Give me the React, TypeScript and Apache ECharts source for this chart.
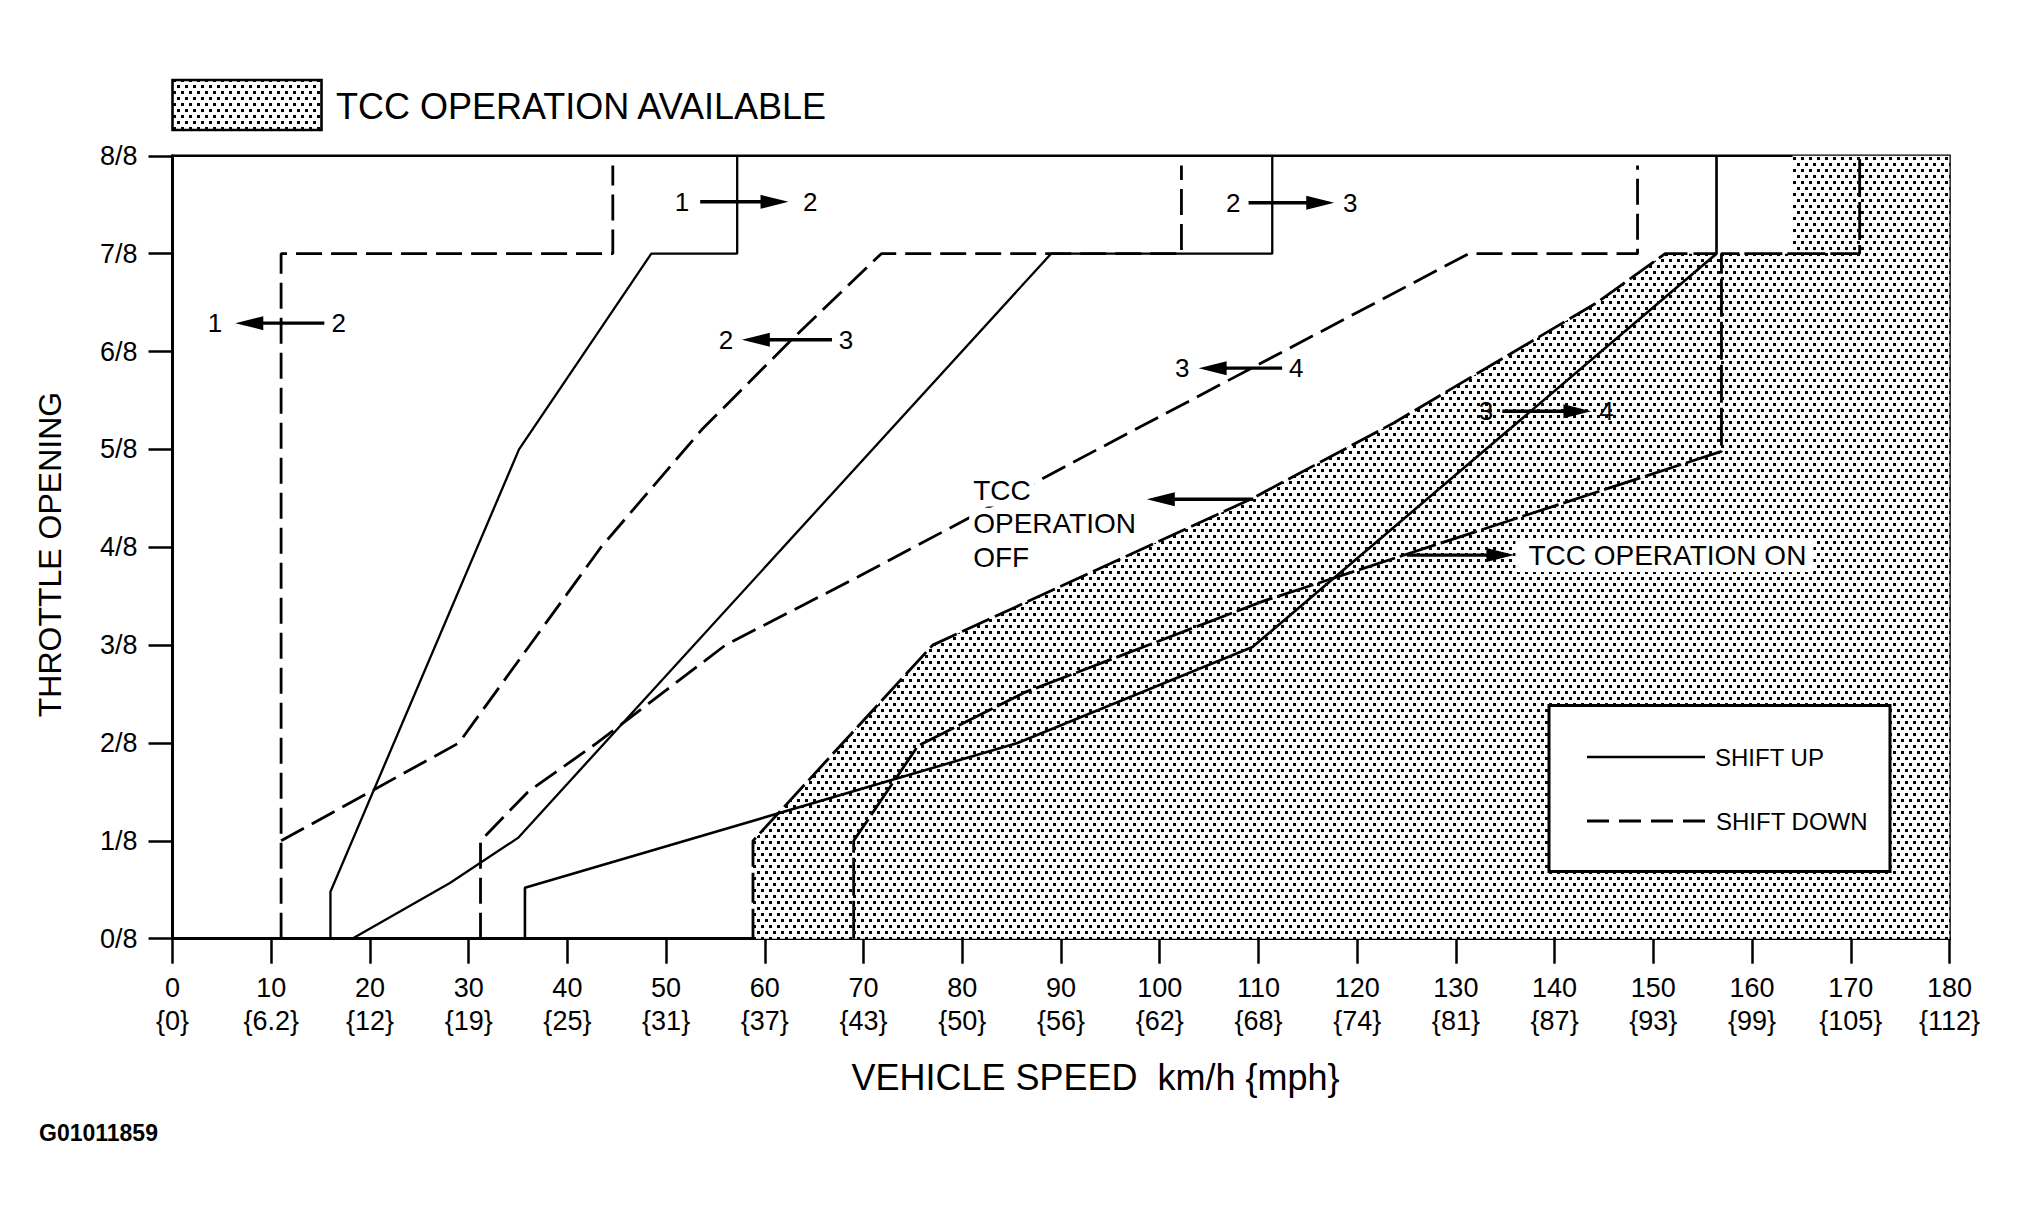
import React, { useEffect, useRef } from "react";
import * as echarts from "echarts";

// ---------- axis values ----------
const speedKmh = [0, 10, 20, 30, 40, 50, 60, 70, 80, 90, 100, 110, 120, 130, 140, 150, 160, 170, 180];
const speedMph = ["0", "6.2", "12", "19", "25", "31", "37", "43", "50", "56", "62", "68", "74", "81", "87", "93", "99", "105", "112"];
const throttleEighths = [0, 1, 2, 3, 4, 5, 6, 7, 8];

// ---------- shift lines: [km/h, throttle in eighths] ----------
const shiftUp12 = [[16, 0], [16, 0.48], [35.1, 5], [48.5, 7], [57.2, 7], [57.2, 8]];
const shiftDown21 = [[11, 0], [11, 7], [44.6, 7], [44.6, 7.9]];
const shiftUp23 = [[18.2, 0], [28.1, 0.57], [35, 1.03], [89, 7], [111.4, 7], [111.4, 8]];
const shiftDown32 = [[11, 1], [29, 2], [43.4, 4], [53.6, 5.2], [62.5, 6.1], [71.8, 7], [102.2, 7], [102.2, 7.9]];
const shiftUp34 = [[35.7, 0], [35.7, 0.52], [85.6, 2], [109.4, 2.98], [156.4, 7], [156.4, 8]];
const shiftDown43 = [[31.2, 0], [31.2, 1], [36, 1.5], [43, 2], [56, 3], [69.5, 3.7], [93.7, 5], [131.3, 7], [148.4, 7], [148.4, 7.9]];

// ---------- TCC ----------
const tccOffBoundary = [[58.8, 0], [58.8, 1], [77, 3], [109.4, 4.5], [123.7, 5.27], [144.3, 6.5], [151.2, 7], [156.4, 7]];
const tccAvailableArea = [[58.8, 0], [58.8, 1], [77, 3], [109.4, 4.5], [123.7, 5.27], [144.3, 6.5], [151.2, 7], [164.1, 7], [164.1, 8], [180, 8]];
const tccOnLine = [[69, 0], [69, 1], [75.5, 1.97], [86.4, 2.52], [110.5, 3.45], [156.9, 4.98], [156.9, 7], [170.9, 7], [170.9, 8]];

// ---------- annotation texts ----------
const shiftNotes = [
  { left: "1", right: "2", y: 7.53, leftX: 51.6, rightX: 64.6, tail: 53.45, tip: 62.4 },
  { left: "1", right: "2", y: 6.29, leftX: 4.31, rightX: 16.83, tail: 15.38, tip: 6.36 },
  { left: "2", right: "3", y: 6.12, leftX: 56.06, rightX: 68.22, tail: 66.8, tip: 57.67 },
  { left: "2", right: "3", y: 7.52, leftX: 107.44, rightX: 119.3, tail: 109.0, tip: 117.68 },
  { left: "3", right: "4", y: 5.83, leftX: 102.28, rightX: 113.84, tail: 112.4, tip: 103.94 },
  { left: "3", right: "4", y: 5.39, leftX: 133.06, rightX: 145.25, tail: 134.7, tip: 143.73 },
];
const tccOffLabel = ["TCC", "OPERATION", "OFF"];
const tccOnLabel = "TCC OPERATION ON";
const legendLabels = ["SHIFT UP", "SHIFT DOWN"];
const titleLabel = "TCC OPERATION AVAILABLE";
const xName = "VEHICLE SPEED\u00A0\u00A0km/h {mph}";
const yName = "THROTTLE OPENING";
const figureCode = "G01011859";

const FONT = "'Liberation Sans', Arial, Helvetica, sans-serif";

function makeDots(): HTMLCanvasElement {
  const c = document.createElement("canvas");
  c.width = 8;
  c.height = 12;
  const ctx = c.getContext("2d")!;
  ctx.fillStyle = "#ffffff";
  ctx.fillRect(0, 0, 8, 12);
  ctx.fillStyle = "#000000";
  ctx.fillRect(1, 1, 3, 3);
  ctx.fillRect(5, 7, 3, 3);
  return c;
}

export default function App() {
  const ref = useRef<HTMLDivElement>(null);

  useEffect(() => {
    if (!ref.current) return;
    const chart = echarts.init(ref.current, null, { renderer: "svg" });
    const dots = makeDots();
    const dotFill: any = { image: dots, repeat: "repeat" };

    const solid = (data: number[][], width: number, z: number) => ({
      type: "line", data, symbol: "none", showSymbol: false, clip: false, silent: true, z,
      lineStyle: { color: "#000", width, type: "solid", cap: "butt" },
    });
    const dashed = (data: number[][], width: number, dash: number[], z: number) => ({
      type: "line", data, symbol: "none", showSymbol: false, clip: false, silent: true, z,
      lineStyle: { color: "#000", width, type: dash, cap: "butt" },
    });

    const option: any = {
      animation: false,
      backgroundColor: "#ffffff",
      grid: {
        left: 172.5, top: 155.8, width: 1777, height: 782.9,
        show: true, borderColor: "#000", borderWidth: 2.6, backgroundColor: "transparent",
      },
      xAxis: {
        type: "value", min: 0, max: 180, interval: 10,
        axisLine: { show: true, lineStyle: { color: "#000", width: 3 } },
        axisTick: { show: true, length: 25, lineStyle: { color: "#000", width: 2.5 } },
        splitLine: { show: false },
        axisLabel: {
          margin: 33, color: "#000", fontSize: 27, lineHeight: 33, fontFamily: FONT,
          formatter: (v: number) => {
            const i = speedKmh.indexOf(v);
            return i >= 0 ? `${v}\n{${speedMph[i]}}` : "";
          },
        },
      },
      yAxis: {
        type: "value", min: 0, max: 8, interval: 1,
        axisLine: { show: true, lineStyle: { color: "#000", width: 3 } },
        axisTick: { show: true, length: 24, lineStyle: { color: "#000", width: 2.5 } },
        splitLine: { show: false },
        axisLabel: {
          margin: 35, color: "#000", fontSize: 27, fontFamily: FONT,
          formatter: (v: number) => (throttleEighths.indexOf(v) >= 0 ? `${v}/8` : ""),
        },
      },
      series: [
        {
          type: "line", data: tccAvailableArea, symbol: "none", showSymbol: false, clip: false, silent: true, z: 1,
          lineStyle: { width: 0, opacity: 0 },
          areaStyle: { color: dotFill, opacity: 1 },
        },
        dashed(tccOffBoundary, 2.8, [30, 6], 3),
        dashed(tccOnLine, 2.8, [38, 5], 3),
        dashed(shiftDown21, 2.8, [26, 9], 4),
        dashed(shiftDown32, 2.8, [26, 9], 4),
        dashed(shiftDown43, 2.8, [26, 9], 4),
        solid(shiftUp12, 2.3, 5),
        solid(shiftUp23, 2.3, 5),
        solid(shiftUp34, 2.6, 5),
      ],
    };
    chart.setOption(option);

    const P = (x: number, y: number) => chart.convertToPixel({ gridIndex: 0 }, [x, y]) as number[];
    const g: any[] = [];

    const arrow = (tailX: number, tipX: number, y: number, z = 20) => {
      const [tx, ty] = P(tailX, y);
      const [px] = P(tipX, y);
      const dir = Math.sign(px - tx);
      const headLen = 28, half = 7;
      g.push({
        type: "line", z, silent: true,
        shape: { x1: tx, y1: ty, x2: px - dir * headLen * 0.7, y2: ty },
        style: { stroke: "#000", lineWidth: 3.4 },
      });
      g.push({
        type: "polygon", z, silent: true,
        shape: { points: [[px, ty], [px - dir * headLen, ty - half], [px - dir * headLen, ty + half]] },
        style: { fill: "#000" },
      });
    };
    const label = (text: string, x: number, y: number, align: string, size: number, extra: any = {}, z = 25) => {
      const [px, py] = P(x, y);
      g.push({
        type: "text", z, silent: true, x: px, y: py,
        style: { text, fill: "#000", fontSize: size, fontFamily: FONT, align, verticalAlign: "middle", ...extra },
      });
    };

    shiftNotes.forEach((n) => {
      arrow(n.tail, n.tip, n.y);
      label(n.left, n.leftX, n.y, "center", 26);
      label(n.right, n.rightX, n.y, "center", 26);
    });

    // TCC OFF
    arrow(109.48, 98.69, 4.49);
    const offBg = { backgroundColor: "#fff", padding: [2, 4, 2, 4] };
    label(tccOffLabel[0], 80.7, 4.58, "left", 28, offBg, 15);
    label(tccOffLabel[1], 80.7, 4.24, "left", 28, offBg, 15);
    label(tccOffLabel[2], 80.7, 3.9, "left", 28, offBg, 15);
    // TCC ON
    label(tccOnLabel, 136.03, 3.92, "left", 28, { backgroundColor: "#fff", padding: [3, 7, 3, 13] });
    arrow(125.04, 135.93, 3.92, 26);

    // title legend (pattern swatch)
    g.push({
      type: "rect", z: 30, silent: true,
      shape: { x: 172.5, y: 80, width: 149, height: 50 },
      style: { fill: dotFill, stroke: "#000", lineWidth: 2.6 },
    });
    g.push({
      type: "text", z: 30, silent: true, x: 336, y: 106.5,
      style: { text: titleLabel, fill: "#000", fontSize: 36, fontFamily: FONT, align: "left", verticalAlign: "middle" },
    });

    // shift legend
    g.push({
      type: "rect", z: 40, silent: true,
      shape: { x: 1549, y: 705.5, width: 341, height: 166 },
      style: { fill: "#fff", stroke: "#000", lineWidth: 3 },
    });
    g.push({
      type: "line", z: 41, silent: true,
      shape: { x1: 1587, y1: 757, x2: 1705, y2: 757 },
      style: { stroke: "#000", lineWidth: 2.6 },
    });
    g.push({
      type: "line", z: 41, silent: true,
      shape: { x1: 1587, y1: 821, x2: 1705, y2: 821 },
      style: { stroke: "#000", lineWidth: 2.8, lineDash: [22, 10] },
    });
    g.push({
      type: "text", z: 41, silent: true, x: 1715, y: 757.5,
      style: { text: legendLabels[0], fill: "#000", fontSize: 24, fontFamily: FONT, align: "left", verticalAlign: "middle" },
    });
    g.push({
      type: "text", z: 41, silent: true, x: 1716, y: 821.5,
      style: { text: legendLabels[1], fill: "#000", fontSize: 24, fontFamily: FONT, align: "left", verticalAlign: "middle" },
    });

    // axis names
    g.push({
      type: "text", z: 30, silent: true, x: 1095.5, y: 1077,
      style: { text: xName, fill: "#000", fontSize: 36, fontFamily: FONT, align: "center", verticalAlign: "middle" },
    });
    g.push({
      type: "text", z: 30, silent: true, x: 50, y: 554.5, rotation: Math.PI / 2,
      style: { text: yName, fill: "#000", fontSize: 32, fontFamily: FONT, align: "center", verticalAlign: "middle" },
    });
    g.push({
      type: "text", z: 30, silent: true, x: 39, y: 1133,
      style: { text: figureCode, fill: "#000", fontSize: 23, fontWeight: "bold", fontFamily: FONT, align: "left", verticalAlign: "middle" },
    });

    chart.setOption({ graphic: g });

    return () => chart.dispose();
  }, []);

  return (
    <div
      ref={ref}
      style={{ position: "absolute", left: 0, top: 0, width: 2019, height: 1217, background: "#fff" }}
    />
  );
}
